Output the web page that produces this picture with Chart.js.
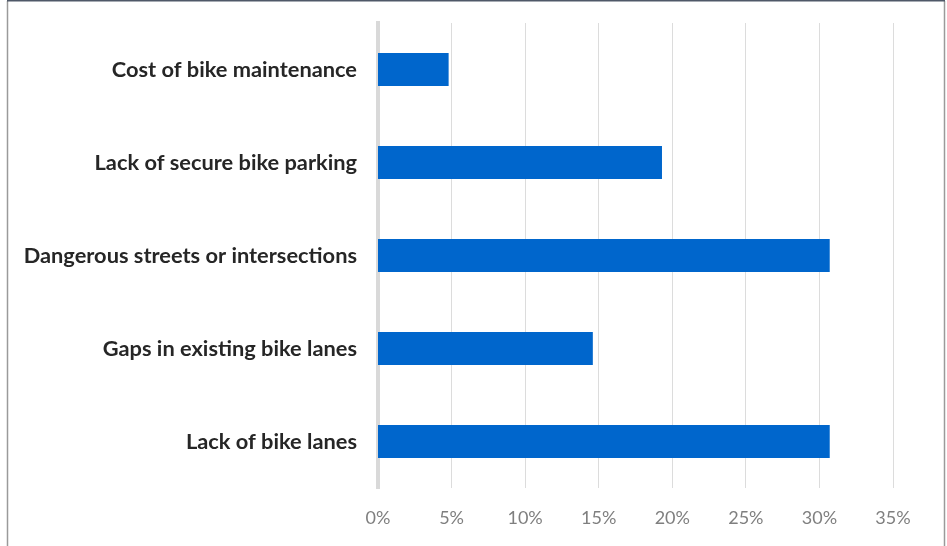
<!DOCTYPE html>
<html>
<head>
<meta charset="utf-8">
<script src="https://cdn.jsdelivr.net/npm/chart.js@4"></script>
<style>
html,body{margin:0;padding:0;background:#fff;}
#wrap{position:relative;width:947px;height:546px;}
</style>
</head>
<body>
<div id="wrap"><canvas id="c" width="947" height="546"></canvas></div>
<script>
const categories = [
  "Cost of bike maintenance",
  "Lack of secure bike parking",
  "Dangerous streets or intersections",
  "Gaps in existing bike lanes",
  "Lack of bike lanes"
];
const shares = [4.8, 19.3, 30.7, 14.6, 30.7];
const tickStep = 5;
const axisMax = 35;

const frame = {
  id: 'frame',
  afterDraw(chart) {
    const ctx = chart.ctx;
    ctx.save();
    ctx.lineWidth = 1.5;
    ctx.strokeStyle = '#9a9a9a';
    ctx.beginPath();
    ctx.moveTo(7.5, 546);
    ctx.lineTo(7.5, 1);
    ctx.moveTo(944.5, 1);
    ctx.lineTo(944.5, 546);
    ctx.stroke();
    ctx.strokeStyle = '#4f5868';
    ctx.beginPath();
    ctx.moveTo(7, 0.75);
    ctx.lineTo(945, 0.75);
    ctx.stroke();
    ctx.restore();
  }
};

new Chart(document.getElementById('c'), {
  type: 'bar',
  data: {
    labels: categories,
    datasets: [{
      data: shares,
      backgroundColor: '#0066CC',
      borderWidth: 0,
      categoryPercentage: 1,
      barPercentage: 0.355
    }]
  },
  options: {
    indexAxis: 'y',
    responsive: false,
    animation: false,
    devicePixelRatio: 1,
    layout: { padding: { top: 23, right: 54, bottom: 0, left: 0 } },
    plugins: { legend: { display: false }, tooltip: { enabled: false } },
    scales: {
      x: {
        min: 0,
        max: axisMax,
        afterFit(s) { s.height = 58; s.paddingLeft = 0; s.paddingRight = 0; },
        ticks: {
          stepSize: tickStep,
          padding: 19,
          color: '#7f7f7f',
          font: { family: 'Lato', size: 18 },
          callback: v => v + '%'
        },
        grid: {
          color: '#dcdcdc',
          lineWidth: ctx => ctx.index === 0 ? 0 : 1,
          drawTicks: false
        },
        border: { display: false }
      },
      y: {
        afterFit(s) { s.width = 378; s.paddingTop = 0; s.paddingBottom = 0; },
        ticks: {
          padding: 21,
          color: '#262626',
          font: { family: 'Lato', size: 21.8, weight: 'bold' }
        },
        grid: { display: false, drawTicks: false },
        border: { display: true, color: '#d9d9d9', width: 4 }
      }
    }
  },
  plugins: [frame]
});
</script>
</body>
</html>
